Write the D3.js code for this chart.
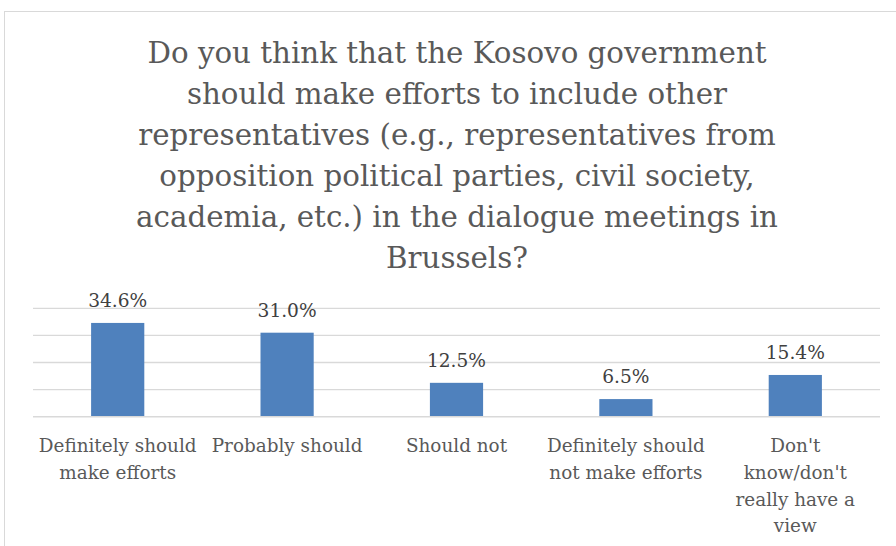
<!DOCTYPE html>
<html>
<head>
<meta charset="utf-8">
<script src="https://cdn.jsdelivr.net/npm/d3@7/dist/d3.min.js"></script>
<style>
  html, body { margin: 0; padding: 0; background: #fff; }
  svg { display: block; }
  text { font-family: "DejaVu Serif", "Liberation Serif", serif; }
</style>
</head>
<body>
<svg id="chart" width="896" height="546"></svg>
<script>
// Survey answers and their shares (%)
const categories = [
  "Definitely should\nmake efforts",
  "Probably should",
  "Should not",
  "Definitely should\nnot make efforts",
  "Don't\nknow/don't\nreally have a\nview"
];
const values = [34.6, 31.0, 12.5, 6.5, 15.4];
const yTicks = [0, 10, 20, 30, 40];
const titleLines = [
  "Do you think that the Kosovo government",
  "should make efforts to include other",
  "representatives (e.g., representatives from",
  "opposition political parties, civil society,",
  "academia, etc.) in the dialogue meetings in",
  "Brussels?"
];

const svg = d3.select("#chart");

// Chart area frame
svg.append("rect")
  .attr("x", 4.5).attr("y", 11.5)
  .attr("width", 1000).attr("height", 1000)
  .attr("fill", "#fff")
  .attr("stroke", "#d9d9d9").attr("stroke-width", 1);

const plot = { left: 33, right: 880, top: 308.3, bottom: 416.7 };

const x = d3.scaleBand()
  .domain(categories)
  .range([plot.left, plot.right])
  .paddingInner(0).paddingOuter(0);

const y = d3.scaleLinear()
  .domain([0, 40])
  .range([plot.bottom, plot.top]);

const barW = x.bandwidth() * 0.314;

// Title
const title = svg.append("text")
  .attr("text-anchor", "middle")
  .attr("fill", "#595959")
  .style("font-size", "29.3px");
titleLines.forEach((line, i) => {
  title.append("tspan")
    .attr("x", 457)
    .attr("y", 63 + i * 41)
    .text(line);
});

// Horizontal gridlines
svg.append("g")
  .selectAll("line")
  .data(yTicks.filter(t => t > 0))
  .join("line")
  .attr("x1", plot.left).attr("x2", plot.right)
  .attr("y1", d => y(d)).attr("y2", d => y(d))
  .attr("stroke", "#d9d9d9").attr("stroke-width", 1.3);

// Bars
svg.append("g")
  .selectAll("rect")
  .data(values)
  .join("rect")
  .attr("x", (d, i) => x(categories[i]) + x.bandwidth() / 2 - barW / 2)
  .attr("width", barW)
  .attr("y", d => y(d))
  .attr("height", d => y(0) - y(d))
  .attr("fill", "#4f81bd");

// Category axis baseline
svg.append("line")
  .attr("x1", plot.left).attr("x2", plot.right)
  .attr("y1", y(0)).attr("y2", y(0))
  .attr("stroke", "#d9d9d9").attr("stroke-width", 1.6);

// Value labels
svg.append("g")
  .selectAll("text")
  .data(values)
  .join("text")
  .attr("x", (d, i) => x(categories[i]) + x.bandwidth() / 2)
  .attr("y", d => y(d) - 16)
  .attr("text-anchor", "middle")
  .attr("fill", "#404040")
  .style("font-size", "18.6px")
  .text(d => d.toFixed(1) + "%");

// Category labels
const catG = svg.append("g");
categories.forEach(c => {
  const t = catG.append("text")
    .attr("text-anchor", "middle")
    .attr("fill", "#595959")
    .style("font-size", "18.4px");
  c.split("\n").forEach((line, j) => {
    t.append("tspan")
      .attr("x", x(c) + x.bandwidth() / 2)
      .attr("y", 452 + j * 26.8)
      .text(line);
  });
});
</script>
</body>
</html>
